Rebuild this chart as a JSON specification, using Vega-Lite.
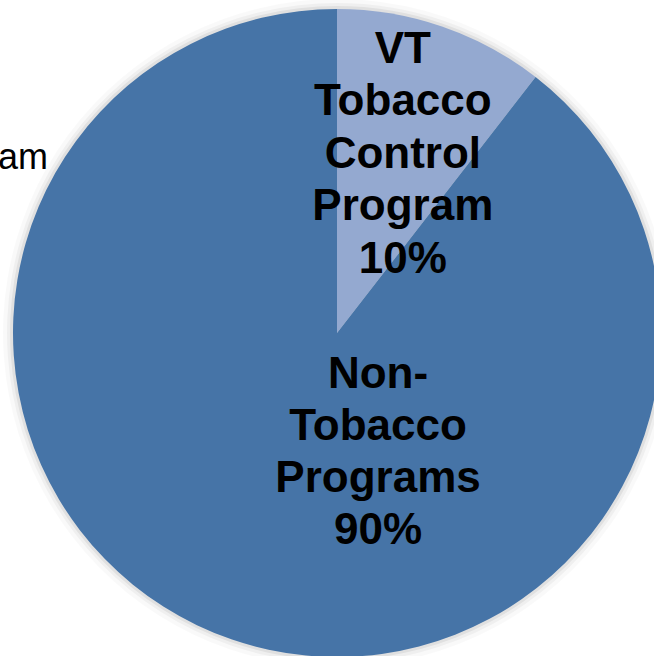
{
  "$schema": "https://vega.github.io/schema/vega-lite/v6.json",
  "width": 634,
  "height": 646,
  "autosize": "none",
  "padding": {"left": 20, "top": 10, "right": 0, "bottom": 0},
  "background": "white",
  "config": {"view": {"stroke": null}},
  "datasets": {
    "slices": [
      {"category": "VT Tobacco Control Program", "share": 10.5, "label": "VT\nTobacco\nControl\nProgram\n10%"},
      {"category": "Non-Tobacco Programs", "share": 89.5, "label": "Non-\nTobacco\nPrograms\n90%"}
    ],
    "notes": [{"note": "am"}]
  },
  "layer": [
    {
      "data": {"name": "slices"},
      "mark": {"type": "arc", "outerRadius": 334, "color": "black", "opacity": 0.025},
      "encoding": {"theta": {"field": "share", "type": "quantitative", "stack": true}, "order": {"field": "share", "sort": "ascending"}}
    },
    {
      "data": {"name": "slices"},
      "mark": {"type": "arc", "outerRadius": 330, "color": "black", "opacity": 0.04},
      "encoding": {"theta": {"field": "share", "type": "quantitative", "stack": true}, "order": {"field": "share", "sort": "ascending"}}
    },
    {
      "data": {"name": "slices"},
      "mark": {"type": "arc", "outerRadius": 327, "color": "black", "opacity": 0.06},
      "encoding": {"theta": {"field": "share", "type": "quantitative", "stack": true}, "order": {"field": "share", "sort": "ascending"}}
    },
    {
      "data": {"name": "slices"},
      "mark": {"type": "arc", "outerRadius": 324},
      "encoding": {
        "theta": {"field": "share", "type": "quantitative", "stack": true},
        "order": {"field": "share", "sort": "ascending"},
        "color": {
          "field": "category",
          "type": "nominal",
          "scale": {"domain": ["VT Tobacco Control Program", "Non-Tobacco Programs"], "range": ["#94A9D0", "#4674A7"]},
          "legend": null
        }
      }
    },
    {
      "data": {"name": "slices"},
      "mark": {"type": "text", "radius": 190, "thetaOffset": 0.024, "dy": -105, "font": "Liberation Sans", "fontWeight": "bold", "fontSize": 44, "lineHeight": 52.5, "lineBreak": "\n", "align": "center", "baseline": "middle", "color": "black"},
      "encoding": {
        "theta": {"field": "share", "type": "quantitative", "stack": true},
        "order": {"field": "share", "sort": "ascending"},
        "text": {"condition": {"test": "datum.category === 'VT Tobacco Control Program'", "field": "label"}, "value": ""}
      }
    },
    {
      "data": {"name": "slices"},
      "mark": {"type": "text", "radius": 124, "thetaOffset": -0.667, "dy": -75, "font": "Liberation Sans", "fontWeight": "bold", "fontSize": 44, "lineHeight": 52, "lineBreak": "\n", "align": "center", "baseline": "middle", "color": "black"},
      "encoding": {
        "theta": {"field": "share", "type": "quantitative", "stack": true},
        "order": {"field": "share", "sort": "ascending"},
        "text": {"condition": {"test": "datum.category === 'Non-Tobacco Programs'", "field": "label"}, "value": ""}
      }
    },
    {
      "data": {"name": "notes"},
      "mark": {"type": "text", "font": "Liberation Sans", "fontSize": 36, "align": "right", "baseline": "alphabetic", "color": "black"},
      "encoding": {
        "text": {"field": "note"},
        "x": {"value": 28},
        "y": {"value": 159}
      }
    }
  ]
}
